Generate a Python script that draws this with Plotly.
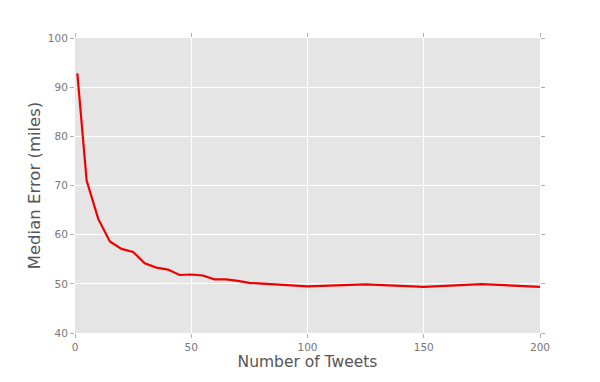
import plotly.graph_objects as go

num_tweets = [1, 5, 10, 15, 20, 25, 30, 35, 40, 45, 50, 55, 60, 65, 70, 75, 100, 125, 150, 175, 200]
median_error = [92.8, 71.0, 63.2, 58.6, 57.1, 56.5, 54.2, 53.3, 52.9, 51.8, 51.9, 51.7, 50.9, 50.9, 50.6, 50.2, 49.5, 49.9, 49.4, 49.95, 49.4]

x_ticks = [0, 50, 100, 150, 200]
y_ticks = [40, 50, 60, 70, 80, 90, 100]

fig = go.Figure()
fig.add_trace(go.Scatter(
    x=num_tweets, y=median_error, mode="lines",
    line=dict(color="#ee0000", width=2.2),
    hoverinfo="skip",
))

axis_common = dict(
    showgrid=True, gridcolor="white", gridwidth=1,
    zeroline=False, showline=False,
    ticks="outside", ticklen=4, tickcolor="#b0b0b0", tickwidth=1,
    tickfont=dict(family="DejaVu Sans", size=10.5, color="#777777"),
    mirror="ticks",
)

fig.update_layout(
    width=600, height=382,
    margin=dict(l=75, r=60, t=38, b=49),
    paper_bgcolor="white", plot_bgcolor="#e5e5e5",
    showlegend=False,
    xaxis=dict(range=[0, 200], tickvals=x_ticks, ticktext=[str(v) for v in x_ticks],
               title=dict(text="Number of Tweets", standoff=4,
                          font=dict(family="DejaVu Sans", size=15.5, color="#555555")),
               **axis_common),
    yaxis=dict(range=[40, 100], tickvals=y_ticks, ticktext=[str(v) for v in y_ticks],
               title=dict(text="Median Error (miles)", standoff=3,
                          font=dict(family="DejaVu Sans", size=16.5, color="#555555")),
               **axis_common),
)

fig.write_html("out.html")
